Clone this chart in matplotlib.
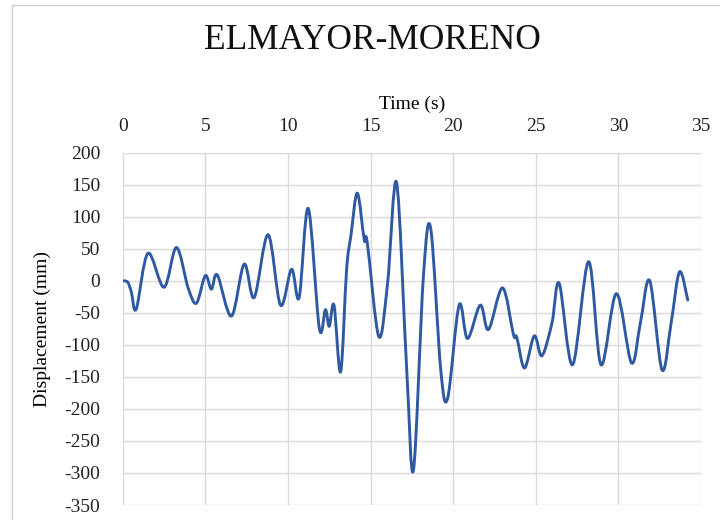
import numpy as np
import matplotlib
matplotlib.use('Agg')
import matplotlib.pyplot as plt
from matplotlib.patches import Rectangle, PathPatch
from matplotlib.path import Path

# time (s) and displacement (mm)
time_s = [0, 0.3, 0.52, 0.82, 1.53, 2.5, 3.25, 3.96, 4.46, 5.0, 5.37, 5.73, 6.58, 7.35, 7.96,
          8.8, 9.55, 10.22, 10.68, 11.23, 11.9, 12.27, 12.5, 12.79, 13.19, 13.55, 13.82,
          14.2, 14.62, 14.8, 15.5, 16.03, 16.58, 17.19, 17.6, 18.2, 18.64, 19.25, 19.67,
          20.36, 20.87, 21.64, 22.14, 22.99, 23.65, 23.85, 24.32, 24.91, 25.37, 25.98,
          26.42, 27.23, 28.2, 28.95, 29.88, 30.79, 31.33, 31.9, 32.64, 33.19, 33.7, 34.2]
disp_mm = [0, -2, -17, -44, 43, -10, 52, -11, -35, 8, -13, 9, -55, 26, -26,
           72, -38, 18, -26, 113, -74, -45, -71, -38, -142, 17, 72,
           137, 64, 60, -87, -4, 153, -139, -295, 7, 82, -139, -183,
           -38, -90, -38, -76, -11, -84, -88, -136, -86, -117, -66,
           -4, -131, 30, -131, -20, -128, -66, 0, -139, -66, 14, -30]

x_ticks = np.arange(0, 36, 5)
y_ticks = np.arange(-350, 201, 50)

plt.rcParams['font.family'] = ['Liberation Serif', 'DejaVu Serif']
plt.rcParams['axes.unicode_minus'] = False


def smooth_path(xs, ys):
    # smoothed line through the points (cubic segments, like a spreadsheet "smoothed line")
    p = np.column_stack([xs, ys]).astype(float)
    verts = [p[0]]
    codes = [Path.MOVETO]
    n = len(p)
    for i in range(n - 1):
        prev = p[i - 1] if i > 0 else p[i]
        nxt = p[i + 2] if i + 2 < n else p[i + 1]
        c1 = p[i] + (p[i + 1] - prev) / 6.0
        c2 = p[i + 1] - (nxt - p[i]) / 6.0
        verts += [c1, c2, p[i + 1]]
        codes += [Path.CURVE4] * 3
    return Path(verts, codes)


fig = plt.figure(figsize=(7.2, 5.2), dpi=100)
fig.patches.append(Rectangle((12 / 720, -0.1), 1.2, 1.0 - 5 / 520 + 0.1,
                             transform=fig.transFigure, fill=False,
                             edgecolor='#d0d0d0', linewidth=1.0))

ax = fig.add_axes([0.1704, 0.0288, 0.8032, 0.6775])
ax.add_patch(PathPatch(smooth_path(time_s, disp_mm), facecolor='none',
                       edgecolor='#2F59A0', linewidth=2.1, joinstyle='round',
                       capstyle='round'))

ax.set_xlim(0, 35)
ax.set_ylim(-350, 200)
ax.set_xticks(x_ticks)
ax.set_yticks(y_ticks)
ax.xaxis.tick_top()
ax.xaxis.set_label_position('top')
ax.tick_params(axis='both', length=0, labelsize=14, colors='#222222')
ax.tick_params(axis='x', pad=13)
ax.tick_params(axis='y', pad=16)
ax.set_xlabel('Time (s)', fontsize=14, labelpad=6)
ax.set_ylabel('Displacement (mm)', fontsize=14, labelpad=10)
for s in ax.spines.values():
    s.set_visible(False)
ax.grid(color='#d9d9d9', linewidth=1.0)
ax.set_axisbelow(True)

fig.text(372 / 720, 1 - 41 / 520, 'ELMAYOR-MORENO', fontsize=25.5,
         ha='center', va='center', color='#111111')

fig.savefig('out.png', dpi=100)
